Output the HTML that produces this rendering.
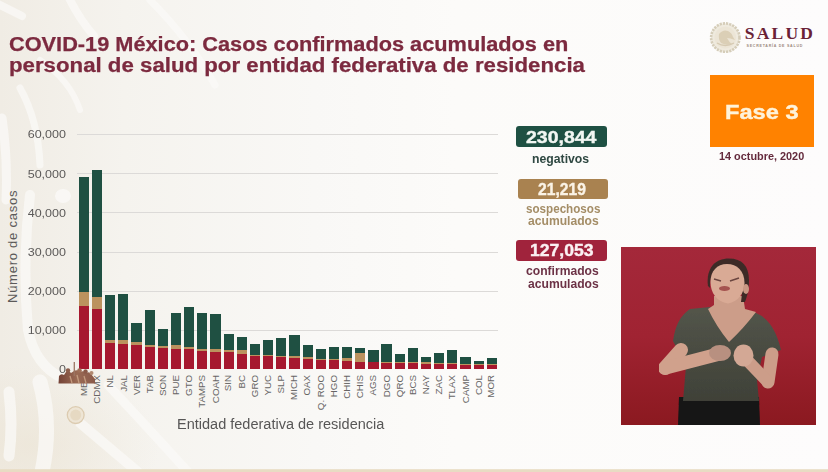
<!DOCTYPE html>
<html><head><meta charset="utf-8">
<style>
html,body{margin:0;padding:0;}
body{width:828px;height:472px;position:relative;overflow:hidden;background:#fbfaf8;font-family:"Liberation Sans",sans-serif;}
.abs{position:absolute;}
#bg{position:absolute;left:0;top:0;width:828px;height:472px;}
.title{position:absolute;left:10px;color:#7c2a3f;-webkit-text-stroke:0.25px #7c2a3f;font-weight:bold;font-size:20px;white-space:nowrap;transform-origin:0 0;}
.b{position:absolute;width:10.2px;}
.g{position:absolute;left:77px;width:421px;height:1px;background:#dcdad8;}
.yl{position:absolute;left:0;width:66px;text-align:right;font-size:11.6px;color:#5c5a59;white-space:nowrap;line-height:14px;transform:scaleX(1.08);transform-origin:100% 0;}
.xl{position:absolute;top:374.7px;width:0;height:0;}
.xl{font-size:9.2px;color:#676565;}
.xl span{position:absolute;right:0;top:-6px;line-height:12px;white-space:nowrap;transform-origin:100% 50%;transform:rotate(-90deg) scaleX(1.06);}
.box{position:absolute;border-radius:3px;color:#fff;font-weight:bold;text-align:center;white-space:nowrap;}
.cap{position:absolute;font-weight:bold;text-align:center;white-space:nowrap;}
.t{position:absolute;white-space:nowrap;transform-origin:0 0;}
</style></head><body>
<svg id="bg" width="828" height="472" viewBox="0 0 828 472">
  <defs>
    <linearGradient id="lg" x1="0" y1="0" x2="1" y2="0">
      <stop offset="0" stop-color="#f0ece4"/>
      <stop offset="0.15" stop-color="#f5f3ee"/>
      <stop offset="0.38" stop-color="#f9f8f6"/>
      <stop offset="0.55" stop-color="#fcfbf9"/>
      <stop offset="1" stop-color="#fdfcfc"/>
    </linearGradient>
    <radialGradient id="rg"><stop offset="0" stop-color="#ebe3d3" stop-opacity="0.6"/><stop offset="1" stop-color="#ebe3d3" stop-opacity="0"/></radialGradient>
  </defs>
  <rect x="0" y="0" width="828" height="472" fill="url(#lg)"/>
  <ellipse cx="30" cy="445" rx="130" ry="80" fill="url(#rg)"/>
  <g fill="none" stroke="#fbfaf8" stroke-linecap="round" opacity="0.75">
    <path d="M30,195 Q22,260 28,330 Q35,365 62,378" stroke-width="10"/>
    <path d="M2,118 Q8,160 6,200" stroke-width="9"/>
    <path d="M20,88 Q38,120 40,165" stroke-width="7"/>
    <path d="M9,392 Q13,425 9,456" stroke-width="11"/>
    <path d="M40,382 Q52,425 42,472" stroke-width="15"/>
    <path d="M80,423 L138,472" stroke-width="10"/>
    <path d="M108,385 Q150,430 188,472" stroke-width="9"/>
    <path d="M-2,4 L22,16" stroke-width="8"/>
    <path d="M69,-2 Q80,20 94,36" stroke-width="8"/>
    <path d="M150,0 Q190,40 215,85" stroke-width="7"/>
    <path d="M40,60 Q70,80 80,110" stroke-width="6"/>
  </g>
  <ellipse cx="63" cy="196" rx="8" ry="7" fill="#fbfaf8" opacity="0.75"/>
  <rect x="0" y="469.2" width="828" height="2.8" fill="#e8dbc3"/>
</svg>
<div class="title" style="left:9px;top:32.5px;transform:scaleX(1.087)">COVID-19 México: Casos confirmados acumulados en</div>
<div class="title" style="left:8.5px;top:53.5px;transform:scaleX(1.112)">personal de salud por entidad federativa de residencia</div>

<div class="g" style="top:133.8px"></div><div class="g" style="top:172.9px"></div><div class="g" style="top:212.3px"></div><div class="g" style="top:251.6px"></div><div class="g" style="top:291.0px"></div><div class="g" style="top:330.2px"></div>
<div class="yl" style="top:127.3px">60,000</div><div class="yl" style="top:166.5px">50,000</div><div class="yl" style="top:205.6px">40,000</div><div class="yl" style="top:244.8px">30,000</div><div class="yl" style="top:284.0px">20,000</div><div class="yl" style="top:323.2px">10,000</div><div class="yl" style="top:362.3px">0</div>
<div class="b" style="left:78.80px;top:176.5px;height:192.3px;background:#1f5042"></div><div class="b" style="left:78.80px;top:291.5px;height:77.3px;background:#bb925e"></div><div class="b" style="left:78.80px;top:306.1px;height:62.7px;background:#a6182f"></div><div class="b" style="left:91.96px;top:169.6px;height:199.2px;background:#1f5042"></div><div class="b" style="left:91.96px;top:297.0px;height:71.8px;background:#bb925e"></div><div class="b" style="left:91.96px;top:308.9px;height:59.9px;background:#a6182f"></div><div class="b" style="left:105.12px;top:295.1px;height:73.7px;background:#1f5042"></div><div class="b" style="left:105.12px;top:339.9px;height:28.9px;background:#bb925e"></div><div class="b" style="left:105.12px;top:342.9px;height:25.9px;background:#a6182f"></div><div class="b" style="left:118.28px;top:294.4px;height:74.4px;background:#1f5042"></div><div class="b" style="left:118.28px;top:340.1px;height:28.7px;background:#bb925e"></div><div class="b" style="left:118.28px;top:344.1px;height:24.7px;background:#a6182f"></div><div class="b" style="left:131.44px;top:322.6px;height:46.2px;background:#1f5042"></div><div class="b" style="left:131.44px;top:342.2px;height:26.6px;background:#bb925e"></div><div class="b" style="left:131.44px;top:344.8px;height:24.0px;background:#a6182f"></div><div class="b" style="left:144.60px;top:310.3px;height:58.5px;background:#1f5042"></div><div class="b" style="left:144.60px;top:345.3px;height:23.5px;background:#bb925e"></div><div class="b" style="left:144.60px;top:346.9px;height:21.9px;background:#a6182f"></div><div class="b" style="left:157.76px;top:329.4px;height:39.4px;background:#1f5042"></div><div class="b" style="left:157.76px;top:346.4px;height:22.4px;background:#bb925e"></div><div class="b" style="left:157.76px;top:348.0px;height:20.8px;background:#a6182f"></div><div class="b" style="left:170.92px;top:312.6px;height:56.2px;background:#1f5042"></div><div class="b" style="left:170.92px;top:345.3px;height:23.5px;background:#bb925e"></div><div class="b" style="left:170.92px;top:348.7px;height:20.1px;background:#a6182f"></div><div class="b" style="left:184.08px;top:306.8px;height:62.0px;background:#1f5042"></div><div class="b" style="left:184.08px;top:347.1px;height:21.7px;background:#bb925e"></div><div class="b" style="left:184.08px;top:349.2px;height:19.6px;background:#a6182f"></div><div class="b" style="left:197.24px;top:313.0px;height:55.8px;background:#1f5042"></div><div class="b" style="left:197.24px;top:349.0px;height:19.8px;background:#bb925e"></div><div class="b" style="left:197.24px;top:351.0px;height:17.8px;background:#a6182f"></div><div class="b" style="left:210.40px;top:314.0px;height:54.8px;background:#1f5042"></div><div class="b" style="left:210.40px;top:349.0px;height:19.8px;background:#bb925e"></div><div class="b" style="left:210.40px;top:351.8px;height:17.0px;background:#a6182f"></div><div class="b" style="left:223.56px;top:334.3px;height:34.5px;background:#1f5042"></div><div class="b" style="left:223.56px;top:349.7px;height:19.1px;background:#bb925e"></div><div class="b" style="left:223.56px;top:351.8px;height:17.0px;background:#a6182f"></div><div class="b" style="left:236.72px;top:336.6px;height:32.2px;background:#1f5042"></div><div class="b" style="left:236.72px;top:350.0px;height:18.8px;background:#bb925e"></div><div class="b" style="left:236.72px;top:354.0px;height:14.8px;background:#a6182f"></div><div class="b" style="left:249.88px;top:343.6px;height:25.2px;background:#1f5042"></div><div class="b" style="left:249.88px;top:354.8px;height:14.0px;background:#bb925e"></div><div class="b" style="left:249.88px;top:355.7px;height:13.1px;background:#a6182f"></div><div class="b" style="left:263.04px;top:339.6px;height:29.2px;background:#1f5042"></div><div class="b" style="left:263.04px;top:355.0px;height:13.8px;background:#bb925e"></div><div class="b" style="left:263.04px;top:356.4px;height:12.4px;background:#a6182f"></div><div class="b" style="left:276.20px;top:337.8px;height:31.0px;background:#1f5042"></div><div class="b" style="left:276.20px;top:355.5px;height:13.3px;background:#bb925e"></div><div class="b" style="left:276.20px;top:356.9px;height:11.9px;background:#a6182f"></div><div class="b" style="left:289.36px;top:334.7px;height:34.1px;background:#1f5042"></div><div class="b" style="left:289.36px;top:356.0px;height:12.8px;background:#bb925e"></div><div class="b" style="left:289.36px;top:358.0px;height:10.8px;background:#a6182f"></div><div class="b" style="left:302.52px;top:345.2px;height:23.6px;background:#1f5042"></div><div class="b" style="left:302.52px;top:356.8px;height:12.0px;background:#bb925e"></div><div class="b" style="left:302.52px;top:358.5px;height:10.3px;background:#a6182f"></div><div class="b" style="left:315.68px;top:349.1px;height:19.7px;background:#1f5042"></div><div class="b" style="left:315.68px;top:358.5px;height:10.3px;background:#bb925e"></div><div class="b" style="left:315.68px;top:359.6px;height:9.2px;background:#a6182f"></div><div class="b" style="left:328.84px;top:347.3px;height:21.5px;background:#1f5042"></div><div class="b" style="left:328.84px;top:358.5px;height:10.3px;background:#bb925e"></div><div class="b" style="left:328.84px;top:360.1px;height:8.7px;background:#a6182f"></div><div class="b" style="left:342.00px;top:346.8px;height:22.0px;background:#1f5042"></div><div class="b" style="left:342.00px;top:357.8px;height:11.0px;background:#bb925e"></div><div class="b" style="left:342.00px;top:360.8px;height:8.0px;background:#a6182f"></div><div class="b" style="left:355.16px;top:348.0px;height:20.8px;background:#1f5042"></div><div class="b" style="left:355.16px;top:353.1px;height:15.7px;background:#bb925e"></div><div class="b" style="left:355.16px;top:361.5px;height:7.3px;background:#a6182f"></div><div class="b" style="left:368.32px;top:349.6px;height:19.2px;background:#1f5042"></div><div class="b" style="left:368.32px;top:361.5px;height:7.3px;background:#bb925e"></div><div class="b" style="left:368.32px;top:362.4px;height:6.4px;background:#a6182f"></div><div class="b" style="left:381.48px;top:343.8px;height:25.0px;background:#1f5042"></div><div class="b" style="left:381.48px;top:361.5px;height:7.3px;background:#bb925e"></div><div class="b" style="left:381.48px;top:362.6px;height:6.2px;background:#a6182f"></div><div class="b" style="left:394.64px;top:354.3px;height:14.5px;background:#1f5042"></div><div class="b" style="left:394.64px;top:361.8px;height:7.0px;background:#bb925e"></div><div class="b" style="left:394.64px;top:363.2px;height:5.6px;background:#a6182f"></div><div class="b" style="left:407.80px;top:347.9px;height:20.9px;background:#1f5042"></div><div class="b" style="left:407.80px;top:362.2px;height:6.6px;background:#bb925e"></div><div class="b" style="left:407.80px;top:363.3px;height:5.5px;background:#a6182f"></div><div class="b" style="left:420.96px;top:357.2px;height:11.6px;background:#1f5042"></div><div class="b" style="left:420.96px;top:362.2px;height:6.6px;background:#bb925e"></div><div class="b" style="left:420.96px;top:363.6px;height:5.2px;background:#a6182f"></div><div class="b" style="left:434.12px;top:352.9px;height:15.9px;background:#1f5042"></div><div class="b" style="left:434.12px;top:362.6px;height:6.2px;background:#bb925e"></div><div class="b" style="left:434.12px;top:363.6px;height:5.2px;background:#a6182f"></div><div class="b" style="left:447.28px;top:350.3px;height:18.5px;background:#1f5042"></div><div class="b" style="left:447.28px;top:362.9px;height:5.9px;background:#bb925e"></div><div class="b" style="left:447.28px;top:364.0px;height:4.8px;background:#a6182f"></div><div class="b" style="left:460.44px;top:357.2px;height:11.6px;background:#1f5042"></div><div class="b" style="left:460.44px;top:363.6px;height:5.2px;background:#bb925e"></div><div class="b" style="left:460.44px;top:364.5px;height:4.3px;background:#a6182f"></div><div class="b" style="left:473.60px;top:360.6px;height:8.2px;background:#1f5042"></div><div class="b" style="left:473.60px;top:363.6px;height:5.2px;background:#bb925e"></div><div class="b" style="left:473.60px;top:364.5px;height:4.3px;background:#a6182f"></div><div class="b" style="left:486.76px;top:358.0px;height:10.8px;background:#1f5042"></div><div class="b" style="left:486.76px;top:363.6px;height:5.2px;background:#bb925e"></div><div class="b" style="left:486.76px;top:364.5px;height:4.3px;background:#a6182f"></div>

<svg class="abs" style="left:65px;top:405px" width="22" height="22" viewBox="0 0 22 22">
 <circle cx="10.7" cy="10.1" r="8.4" fill="#eee5d5" stroke="#dccbb0" stroke-width="1.3"/>
 <circle cx="10.7" cy="10.1" r="5.5" fill="#e6d9c2"/>
</svg>
<div id="xls"><div class="xl" style="left:83.90px"><span>MEX</span></div><div class="xl" style="left:97.06px"><span>CDMX</span></div><div class="xl" style="left:110.22px"><span>NL</span></div><div class="xl" style="left:123.38px"><span>JAL</span></div><div class="xl" style="left:136.54px"><span>VER</span></div><div class="xl" style="left:149.70px"><span>TAB</span></div><div class="xl" style="left:162.86px"><span>SON</span></div><div class="xl" style="left:176.02px"><span>PUE</span></div><div class="xl" style="left:189.18px"><span>GTO</span></div><div class="xl" style="left:202.34px"><span>TAMPS</span></div><div class="xl" style="left:215.50px"><span>COAH</span></div><div class="xl" style="left:228.66px"><span>SIN</span></div><div class="xl" style="left:241.82px"><span>BC</span></div><div class="xl" style="left:254.98px"><span>GRO</span></div><div class="xl" style="left:268.14px"><span>YUC</span></div><div class="xl" style="left:281.30px"><span>SLP</span></div><div class="xl" style="left:294.46px"><span>MICH</span></div><div class="xl" style="left:307.62px"><span>OAX</span></div><div class="xl" style="left:320.78px"><span>Q. ROO</span></div><div class="xl" style="left:333.94px"><span>HGO</span></div><div class="xl" style="left:347.10px"><span>CHIH</span></div><div class="xl" style="left:360.26px"><span>CHIS</span></div><div class="xl" style="left:373.42px"><span>AGS</span></div><div class="xl" style="left:386.58px"><span>DGO</span></div><div class="xl" style="left:399.74px"><span>QRO</span></div><div class="xl" style="left:412.90px"><span>BCS</span></div><div class="xl" style="left:426.06px"><span>NAY</span></div><div class="xl" style="left:439.22px"><span>ZAC</span></div><div class="xl" style="left:452.38px"><span>TLAX</span></div><div class="xl" style="left:465.54px"><span>CAMP</span></div><div class="xl" style="left:478.70px"><span>COL</span></div><div class="xl" style="left:491.86px"><span>MOR</span></div></div>
<svg class="abs" style="left:55px;top:360px" width="44" height="26" viewBox="55 360 44 26">
 <defs><linearGradient id="pg" x1="0" y1="0" x2="1" y2="0"><stop offset="0" stop-color="#744236"/><stop offset="0.5" stop-color="#9a6a54"/><stop offset="1" stop-color="#8a5a4a"/></linearGradient></defs>
 <path d="M58.5,383.5 L59,376 Q61,373 64,375 L66,372 Q69,370 71,373 L74,371 Q77,369 80,372 Q83,370 86,373 Q89,371 91,374 L95,379 L95,383.5 Z" fill="url(#pg)"/>
 <circle cx="68" cy="370.5" r="2.2" fill="#8c5c4a"/>
 <circle cx="79.5" cy="370.5" r="2.3" fill="#a07058"/>
 <circle cx="85.5" cy="371.5" r="2.2" fill="#8a5a48"/>
 <circle cx="91.5" cy="373" r="2" fill="#b08870"/>
 <path d="M74.3,362 L74.3,376" stroke="#9b7563" stroke-width="1.3"/>
 <path d="M70,376 L72,383 M77,375 L79,383 M84,376 L86,383" stroke="#c39a7e" stroke-width="1.3"/>
</svg>
<div class="abs" style="left:6.3px;top:303px;width:0;height:0;"><div style="position:absolute;transform:rotate(-90deg);transform-origin:0 0;white-space:nowrap;font-size:13px;line-height:13px;letter-spacing:0.75px;color:#5c5a59;left:0;top:0;">Número de casos</div></div>

<div class="box" style="left:515.5px;top:126px;width:91.5px;height:21px;background:#1e5043;"></div>
<div class="box" style="left:517.5px;top:178.8px;width:90.3px;height:20.5px;background:#a98250;"></div>
<div class="box" style="left:516px;top:239.8px;width:91.2px;height:21px;background:#a0233c;"></div>
<div class="box" style="left:710px;top:75px;width:104px;height:72px;border-radius:0;background:#ff8200;"></div>
<div class="t" style="left:525.90px;top:128.51px;font-size:17px;line-height:17px;color:#f2f7f3;font-weight:bold;font-family:'Liberation Sans';transform:scaleX(1.1449);-webkit-text-stroke:0.4px #f2f7f3;">230,844</div><div class="t" style="left:532.00px;top:153.34px;font-size:12px;line-height:12px;color:#2f4842;font-weight:bold;font-family:'Liberation Sans';transform:scaleX(1.0200);">negativos</div><div class="t" style="left:538.00px;top:180.91px;font-size:17px;line-height:17px;color:#fbf3e6;font-weight:bold;font-family:'Liberation Sans';transform:scaleX(0.9200);-webkit-text-stroke:0.4px #fbf3e6;">21,219</div><div class="t" style="left:526.30px;top:202.74px;font-size:12px;line-height:12px;color:#a48d66;font-weight:bold;font-family:'Liberation Sans';transform:scaleX(0.9700);">sospechosos</div><div class="t" style="left:528.10px;top:214.84px;font-size:12px;line-height:12px;color:#a48d66;font-weight:bold;font-family:'Liberation Sans';transform:scaleX(1.0100);">acumulados</div><div class="t" style="left:530.10px;top:241.71px;font-size:17px;line-height:17px;color:#fbf1f3;font-weight:bold;font-family:'Liberation Sans';transform:scaleX(1.0340);-webkit-text-stroke:0.4px #fbf1f3;">127,053</div><div class="t" style="left:525.90px;top:265.14px;font-size:12px;line-height:12px;color:#6c3246;font-weight:bold;font-family:'Liberation Sans';transform:scaleX(1.0100);">confirmados</div><div class="t" style="left:527.90px;top:278.14px;font-size:12px;line-height:12px;color:#6c3246;font-weight:bold;font-family:'Liberation Sans';transform:scaleX(1.0100);">acumulados</div><div class="t" style="left:724.90px;top:101.22px;font-size:21px;line-height:21px;color:#fff3da;font-weight:bold;font-family:'Liberation Sans';transform:scaleX(1.1266);-webkit-text-stroke:0.4px #fff3da;">Fase 3</div><div class="t" style="left:718.70px;top:150.91px;font-size:10.5px;line-height:10.5px;color:#642a3c;font-weight:bold;font-family:'Liberation Sans';transform:scaleX(1.0350);">14 octubre, 2020</div><div class="t" style="left:744.80px;top:24.94px;font-size:17.5px;line-height:17.5px;color:#6a2236;font-weight:bold;font-family:'Liberation Serif';transform:scaleX(1.0000);letter-spacing:2.2px;">SALUD</div><div class="t" style="left:177.40px;top:417.92px;font-size:13.8px;line-height:13.8px;color:#575656;font-weight:normal;font-family:'Liberation Sans';transform:scaleX(1.0520);">Entidad federativa de residencia</div>
<div class="abs" style="left:746.5px;top:44.3px;font-size:3.6px;line-height:4px;color:#9c8a7e;white-space:nowrap;letter-spacing:0.75px;font-weight:bold;">SECRETARÍA DE SALUD</div>
<svg class="abs" style="left:708px;top:21px" width="36" height="36" viewBox="0 0 36 36">
 <circle cx="17.3" cy="16.6" r="14.2" fill="#efeade" stroke="#d5cdb9" stroke-width="2.6" stroke-dasharray="2.2 1"/>
 <circle cx="17.3" cy="16.6" r="10.8" fill="#ece5d6"/>
 <path d="M11,13 Q15,8 20,10 Q24,12 25,16 L27,19 Q22,17 19,17 Q21,21 24,23 Q18,25 13,22 Q10,18 11,13 Z" fill="#dbcfb6"/>
 <path d="M9,22 Q17,27 26,22" stroke="#d6cab2" stroke-width="1.3" fill="none"/>
</svg>

<svg class="abs" style="left:621px;top:247px" width="195" height="178" viewBox="621 247 195 178">
 <defs><filter id="soft" x="-5%" y="-5%" width="110%" height="110%"><feGaussianBlur stdDeviation="0.6"/></filter>
 <linearGradient id="shg" x1="0" y1="0" x2="0" y2="1"><stop offset="0" stop-color="#53554a"/><stop offset="1" stop-color="#3f4138"/></linearGradient>
 <linearGradient id="redg" x1="0" y1="0" x2="0" y2="1"><stop offset="0" stop-color="#a4283a"/><stop offset="0.5" stop-color="#a02332"/><stop offset="1" stop-color="#8b1920"/></linearGradient></defs>
 <rect x="621" y="247" width="195" height="178" fill="url(#redg)"/>
 <g filter="url(#soft)">
 <path d="M679,397 L759,397 L760,425 L678,425 Z" fill="#161415"/>
 <path d="M690,309 L710,307 L745,310 L756,313 Q774,320 781,350 L762,357 L757,380 L759,401 L683,401 L686,366 L673,341 Q676,318 690,309 Z" fill="url(#shg)"/>
 <path d="M714,296 L743,296 L745,309 L756,312 Q744,328 729,342 Q716,326 708,309 L714,305 Z" fill="#cc9d89"/>
 <path d="M708,286 C706,268 715,258.5 729,258.5 C742,258.5 749,266 749,280 C749,290 747,297 745,302 L741,302 C743,290 742,275 736,269 C729,265 719,265 714,271 C711,275 710,281 710,288 Z" fill="#3d2c28"/>
 <path d="M727,264 C717,264 710.5,271 710.5,282 C710.5,293 717,302 728,303.5 C738,302 744.5,293 744.5,283 C744.5,271 737,264 727,264 Z" fill="#d9aa95"/>
 <ellipse cx="746" cy="289" rx="3" ry="5" fill="#c99884"/>
 <path d="M714,279 L721,281 M730,281 L739,278" stroke="#6a4540" stroke-width="1.5"/>
 <ellipse cx="724.5" cy="288.5" rx="5.5" ry="2.6" fill="#a4524f"/>
 <path d="M681,350 L665,368" stroke="#d0a18c" stroke-width="14" stroke-linecap="round"/>
 <path d="M665,368 L719,354" stroke="#d0a18c" stroke-width="13.5" stroke-linecap="round"/>
 <path d="M772,354 L768,382" stroke="#cc9d89" stroke-width="13" stroke-linecap="round"/>
 <path d="M768,382 L745,358" stroke="#cc9d89" stroke-width="12" stroke-linecap="round"/>
 <ellipse cx="720" cy="353" rx="11" ry="8" fill="#b89080"/>
 <ellipse cx="743.5" cy="355.5" rx="10" ry="11" fill="#d3a895"/>
 </g>
</svg>
</body></html>
